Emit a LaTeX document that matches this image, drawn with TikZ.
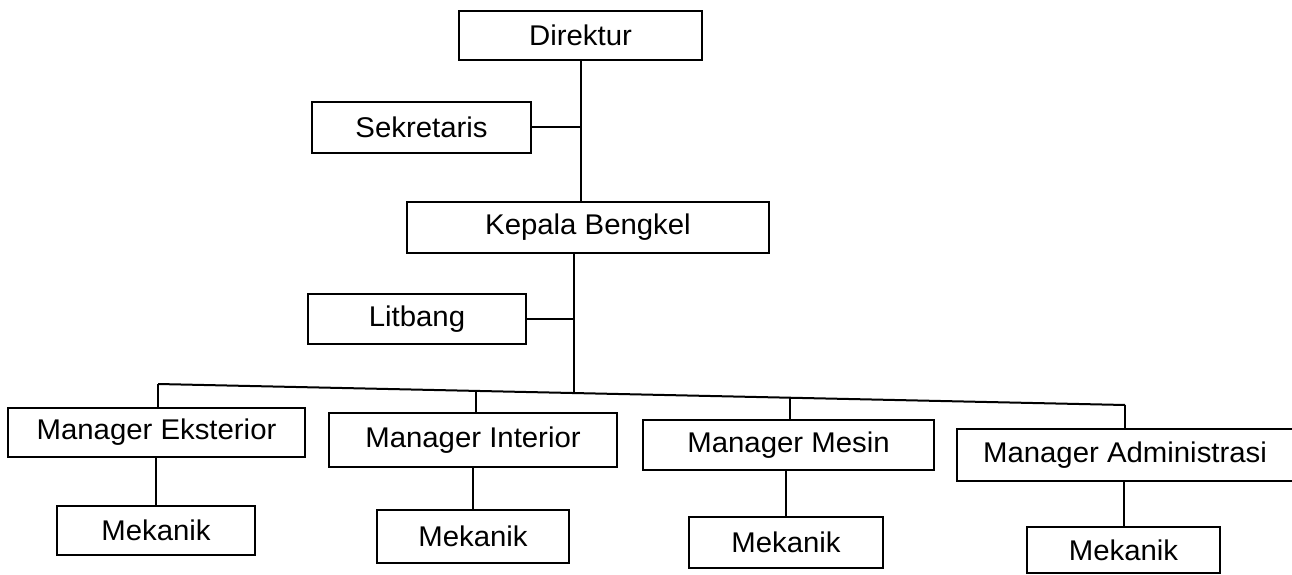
\documentclass[tikz,border=0pt]{standalone}
\usepackage{fontspec}
\setmainfont{Liberation Sans}[FakeStretch=1.03]
\begin{document}
\begin{tikzpicture}[x=1pt,y=-1pt,
  box/.style={draw=black,line width=2pt,rectangle,inner sep=0pt,font=\fontsize{28.5}{32}\selectfont},
  link/.style={draw=black,line width=2pt}]
\useasboundingbox (0,0) rectangle (1292,575);
\fill[white] (0,0) rectangle (1292,575);
% top
\node[box,minimum width=243pt,minimum height=49pt] (dir) at (580.5,35.5) {Direktur};
\node[box,minimum width=219pt,minimum height=51pt] (sek) at (421.5,127.5) {Sekretaris};
\node[box,minimum width=362pt,minimum height=51pt] (kep) at (588,227.5) {Kepala Bengkel};
\node[box,minimum width=218pt,minimum height=50pt] (lit) at (417,319) {Litbang};
% managers
\node[box,minimum width=297pt,minimum height=49pt] (mE) at (156.5,432.5) {Manager Eksterior};
\node[box,minimum width=288pt,minimum height=54pt] (mI) at (473,440) {Manager Interior};
\node[box,minimum width=291pt,minimum height=50pt] (mM) at (788.5,445) {Manager Mesin};
\node[box,minimum width=336pt,minimum height=52pt] (mA) at (1125,455) {Manager Administrasi};
% mekanik
\node[box,minimum width=198pt,minimum height=49pt] (k1) at (156,530.5) {Mekanik};
\node[box,minimum width=192pt,minimum height=53pt] (k2) at (473,536.5) {Mekanik};
\node[box,minimum width=194pt,minimum height=51pt] (k3) at (786,542.5) {Mekanik};
\node[box,minimum width=193pt,minimum height=46pt] (k4) at (1123.5,550) {Mekanik};
% bus coordinates
\coordinate (b1) at (158,384);
\coordinate (b2) at (476,391);
\coordinate (bK) at (574,393);
\coordinate (b3) at (790,397.7);
\coordinate (b4) at (1125,405);
% connectors
\draw[link] (dir.south) -- (dir.south |- kep.north);
\draw[link] (sek.east) -- (dir.south |- sek.east);
\draw[link] (bK |- kep.south) -- (bK);
\draw[link] (lit.east) -- (lit.east -| bK);
\draw[link] (b1) -- (b4);
\draw[link] (b1) -- (b1 |- mE.north);
\draw[link] (b2) -- (b2 |- mI.north);
\draw[link] (b3) -- (b3 |- mM.north);
\draw[link] (b4) -- (b4 |- mA.north);
\draw[link] (k1.north |- mE.south) -- (k1.north);
\draw[link] (mI.south) -- (k2.north);
\draw[link] (k3.north |- mM.south) -- (k3.north);
\draw[link] (k4.north |- mA.south) -- (k4.north);
\end{tikzpicture}
\end{document}
